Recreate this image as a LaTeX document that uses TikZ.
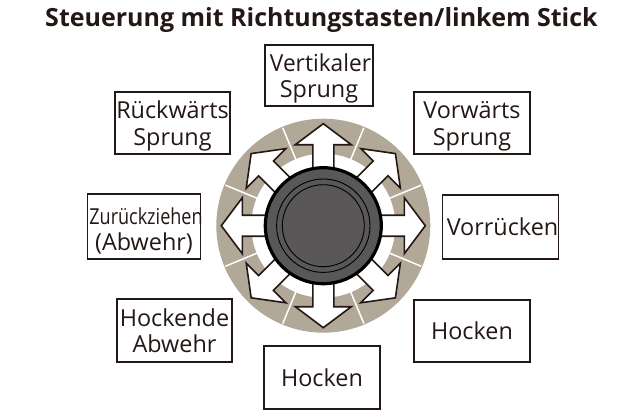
\documentclass[tikz,border=0pt]{standalone}
\usepackage{fontspec}
\usetikzlibrary{calc}
\setmainfont{Open Sans}
\definecolor{ring}{HTML}{B2A897}
\definecolor{knob}{HTML}{595757}
\definecolor{ink}{HTML}{231815}
\tikzset{
  x=1pt,y=-1pt,
  label box/.style={draw=ink,line width=1.3pt,fill=white,inner sep=0pt,text=ink,align=center,font=\fontsize{23.4}{26.5}\selectfont},
  dir arrow/.style={draw=ink,line width=1.6pt,fill=white,miter limit=10},
  sep line/.style={draw=white,line width=1.5pt},
}
\newcommand{\boxnode}[6]{\node[label box,minimum width=#4pt,minimum height=#5pt] (#1) at (#2,#3) {#6};}
\newcommand{\tp}{\rule{0pt}{23.5pt}}
\begin{document}
\begin{tikzpicture}
\useasboundingbox (0,0) rectangle (640,420);
\node[text=ink,font=\bfseries\fontsize{25}{28}\selectfont,anchor=center] (title) at (321.5,20) {Steuerung mit Richtungstasten/linkem Stick};
\coordinate (c) at (323.3,225.7);
\fill[ring] (c) circle[radius=107];
\fill[white] (c) circle[radius=72];
\foreach \a in {22.5,67.5,...,337.5}
  \draw[sep line] ($(c)+(\a:106)$) -- ($(c)+(\a:71)$);
\foreach \a in {0,45,...,315}
  \draw[dir arrow,shift={(c)},rotate=\a] (50,-10.5) -- (81,-10.5) -- (81,-28) -- (102,0) -- (81,28) -- (81,10.5) -- (50,10.5) -- cycle;
\fill[knob,draw=black,line width=3.2pt] (c) circle[radius=58];
\draw[black,line width=0.9pt] (c) circle[radius=46.7];
\draw[black,line width=0.9pt] (c) circle[radius=41];
\boxnode{vs}{319}{75.5}{108}{61}{\hspace{3pt}\tp\scalebox{0.97}[1]{Vertikaler}\\Sprung}
\boxnode{fs}{472}{123}{116}{62}{\tp Vorwärts\\Sprung}
\boxnode{bs}{172.5}{123}{115}{62}{\tp Rückwärts\\Sprung}
\boxnode{vr}{500.5}{227}{115}{64}{\hspace{4pt}Vorrücken}
\node[label box,minimum width=113pt,minimum height=65pt] (zu) at (144,226.5) {\rule{0pt}{26pt}\hspace{4pt}\makebox[100pt]{\scalebox{0.82}[1]{\fontsize{22}{24}\selectfont Zurückziehen}}\\(Abwehr)};
\boxnode{ha}{174.5}{330.5}{115}{63}{Hockende\\Abwehr}
\boxnode{hr}{472}{331}{116}{62}{Hocken}
\boxnode{hb}{322}{377.5}{116}{63}{Hocken}
\end{tikzpicture}
\end{document}
